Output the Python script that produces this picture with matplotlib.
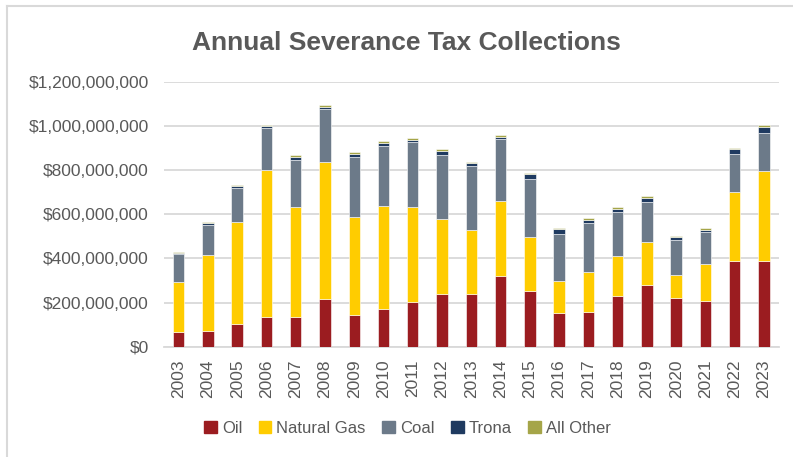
import numpy as np
import matplotlib
matplotlib.use("Agg")
import matplotlib.pyplot as plt
from matplotlib.lines import Line2D
from matplotlib.ticker import FuncFormatter

# values in millions of dollars
years = [str(y) for y in range(2003, 2024)]
oil = [65, 72, 101, 136, 136, 216, 144, 172, 201, 237, 237,
       322, 252, 151, 159, 231, 281, 222, 208, 388, 388]
natural_gas = [229, 343, 465, 665, 495, 622, 443, 466, 430, 341, 293,
               338, 243, 145, 179, 178, 193, 101, 165, 314, 408]
coal = [124, 137, 154, 191, 216, 238, 273, 271, 294, 290, 290,
        280, 266, 216, 222, 202, 180, 160, 145, 172, 172]
trona = [8, 8, 6, 6, 13, 11, 14, 13, 12, 19, 10,
         11, 20, 20, 15, 14, 21, 12, 10, 20, 28]
all_other = [4, 6, 6, 4, 7, 7, 8, 9, 8, 8, 8,
             6, 4, 4, 6, 8, 6, 6, 8, 7, 6]

series = [("Oil", oil, "#9B1C20"),
          ("Natural Gas", natural_gas, "#FFCC00"),
          ("Coal", coal, "#6C7A89"),
          ("Trona", trona, "#1F3A60"),
          ("All Other", all_other, "#A5A548")]

plt.rcParams['font.family'] = ['Liberation Sans', 'DejaVu Sans']
grey = "#595959"

fig = plt.figure(figsize=(7.93, 4.57), dpi=100)
ax = fig.add_axes([0.2068, 0.2414, 0.775, 0.5798])

x = np.arange(len(years))
bottom = np.zeros(len(years))
for name, vals, col in series:
    v = np.array(vals, dtype=float) * 1e6
    ax.bar(x, v, 0.39, bottom=bottom, color=col, edgecolor="white",
           linewidth=0.4, label=name, zorder=3)
    bottom += v

ax.set_xlim(-0.5, len(years) - 0.5)
ax.set_ylim(0, 1.2e9)
ax.set_yticks(np.arange(0, 1.2e9 + 1, 2e8))
ax.yaxis.set_major_formatter(FuncFormatter(lambda v, p: "${:,.0f}".format(v)))
ax.set_xticks(x)
ax.set_xticklabels(years, rotation=90)
ax.grid(axis="y", color="#D9D9D9", linewidth=1.3, zorder=0)
for s in ["top", "right", "left"]:
    ax.spines[s].set_visible(False)
ax.spines["bottom"].set_color("#D9D9D9")
ax.spines["bottom"].set_linewidth(1.3)
ax.tick_params(axis="both", length=0, labelsize=12.5, colors=grey)
ax.tick_params(axis="y", pad=11)
ax.tick_params(axis="x", pad=9)

fig.text(0.513, 0.907, "Annual Severance Tax Collections", ha="center", va="center",
         fontsize=19, fontweight="bold", color=grey)

handles = [plt.Rectangle((0, 0), 1, 1, color=c) for _, _, c in series]
fig.legend(handles, [n for n, _, _ in series], loc="center", bbox_to_anchor=(0.514, 0.063),
           ncol=5, frameon=False, fontsize=12, labelcolor=grey,
           handlelength=0.75, handleheight=0.75, handletextpad=0.3, columnspacing=1.0)

# chart frame edges (left and top)
fig.add_artist(Line2D([6.5 / 793, 6.5 / 793], [0, 1 - 6 / 457], color="#D9D9D9", lw=1.5))
fig.add_artist(Line2D([6.5 / 793, 1], [1 - 6 / 457, 1 - 6 / 457], color="#D9D9D9", lw=1.5))

fig.savefig("out.png", dpi=100)
